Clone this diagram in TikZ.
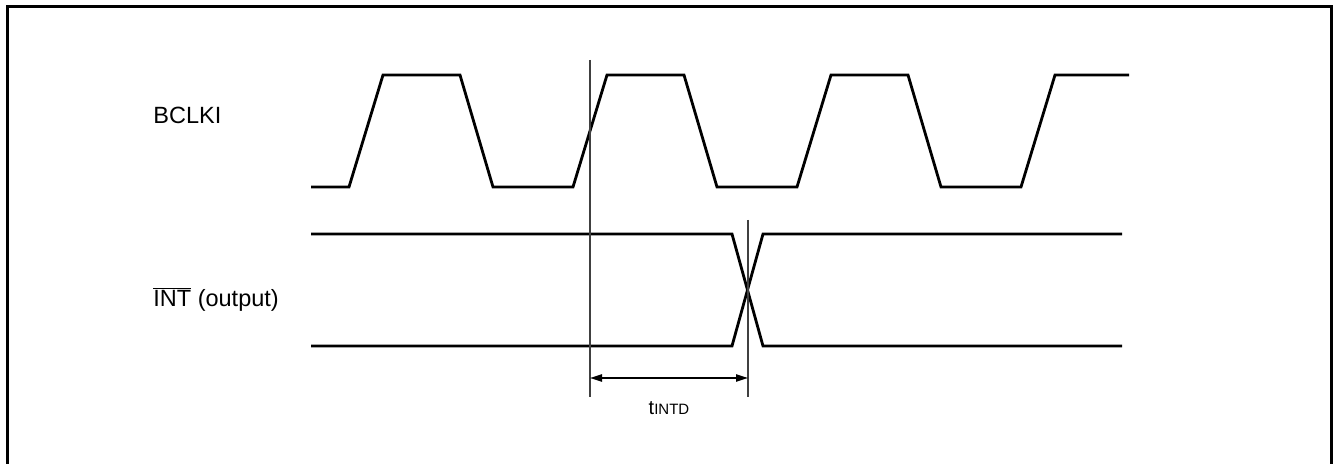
\documentclass[tikz,border=0pt]{standalone}
\usepackage{fontspec}
\setmainfont{Liberation Sans}
\usetikzlibrary{arrows.meta}
\begin{document}
\begin{tikzpicture}[x=0.5pt,y=-0.5pt,
signal/.style={line width=1.4pt,line join=miter},
marker/.style={line width=0.6pt,draw=black!75},
signame/.style={anchor=base west,inner sep=0pt,font=\fontsize{11.75}{14}\selectfont},
timing/.style={{Triangle[length=6pt,width=3.6pt]}-{Triangle[length=6pt,width=3.6pt]},line width=0.8pt}]

\useasboundingbox (0,0) rectangle (1334,464);
\draw[line width=1.5pt] (7,464) -- (7,7) -- (1331,7) -- (1331,464);

% signal names
\node[signame] (bclki) at (153,124) {BCLKI};
\node[signame] (int) at (153,307) {$\overline{\mbox{INT}}$ (output)};

% BCLKI clock
\draw[signal] (311,187) -- (349,187)
  \foreach \k in {0,1,2} { -- ++(34,-112) -- ++(77,0) -- ++(33,112) -- ++(80,0) }
  -- ++(34,-112) -- (1129,75);

% INT output change
\draw[signal] (311,234) -- (732,234) -- (763,346) -- (1122,346);
\draw[signal] (311,346) -- (732,346) -- (763,234) -- (1122,234);

% reference lines
\coordinate (clkedge) at (590,60);
\coordinate (intedge) at (748,220);
\draw[marker] (clkedge) -- ++(0,337) coordinate (clkend);
\draw[marker] (intedge) -- ++(0,177) coordinate (intend);

\coordinate (tstart) at (590,378);
\coordinate (tend) at (748,378);
\draw[timing] (tstart) -- (tend);
\node[anchor=base,inner sep=0pt,font=\fontsize{10}{12}\selectfont] (tintd) at (669,415) {t{\fontsize{7.5}{9}\selectfont INTD}};

\end{tikzpicture}
\end{document}
